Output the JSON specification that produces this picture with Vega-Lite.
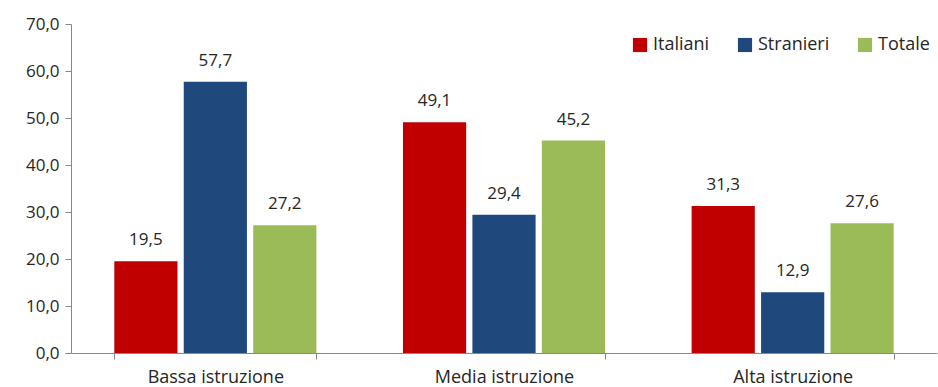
{
  "$schema": "https://vega.github.io/schema/vega-lite/v6.json",
  "width": 866,
  "height": 329,
  "autosize": {"type": "none"},
  "padding": {"left": 71, "top": 24, "right": 1, "bottom": 34},
  "config": {
    "view": {"stroke": null},
    "font": "Open Sans",
    "locale": {"number": {"decimal": ",", "thousands": ".", "grouping": [3], "currency": ["€", ""]}}
  },
  "data": {
    "values": [
      {"istruzione": "Bassa istruzione", "gruppo": "Italiani", "valore": 19.5},
      {"istruzione": "Bassa istruzione", "gruppo": "Stranieri", "valore": 57.7},
      {"istruzione": "Bassa istruzione", "gruppo": "Totale", "valore": 27.2},
      {"istruzione": "Media istruzione", "gruppo": "Italiani", "valore": 49.1},
      {"istruzione": "Media istruzione", "gruppo": "Stranieri", "valore": 29.4},
      {"istruzione": "Media istruzione", "gruppo": "Totale", "valore": 45.2},
      {"istruzione": "Alta istruzione", "gruppo": "Italiani", "valore": 31.3},
      {"istruzione": "Alta istruzione", "gruppo": "Stranieri", "valore": 12.9},
      {"istruzione": "Alta istruzione", "gruppo": "Totale", "valore": 27.6}
    ]
  },
  "encoding": {
    "x": {
      "field": "istruzione", "type": "nominal",
      "sort": ["Bassa istruzione", "Media istruzione", "Alta istruzione"],
      "scale": {"paddingInner": 0.3, "paddingOuter": 0.15},
      "axis": {
        "title": null, "labelAngle": 0, "tickBand": "extent",
        "domainColor": "#888888", "tickColor": "#888888", "tickSize": 6,
        "labelFontSize": 18, "labelColor": "#262626", "labelPadding": 9, "grid": false
      }
    },
    "xOffset": {
      "field": "gruppo", "type": "nominal",
      "sort": ["Italiani", "Stranieri", "Totale"],
      "scale": {"paddingInner": 0.09}
    },
    "y": {
      "field": "valore", "type": "quantitative",
      "scale": {"domain": [0, 70], "nice": false},
      "axis": {
        "title": null, "values": [0, 10, 20, 30, 40, 50, 60, 70], "format": ".1f",
        "grid": false, "domainColor": "#888888", "tickColor": "#888888", "tickSize": 6,
        "labelFontSize": 17, "labelColor": "#262626", "labelPadding": 6
      }
    }
  },
  "layer": [
    {
      "mark": {"type": "bar"},
      "encoding": {
        "color": {
          "field": "gruppo", "type": "nominal",
          "sort": ["Italiani", "Stranieri", "Totale"],
          "scale": {"domain": ["Italiani", "Stranieri", "Totale"], "range": ["#C00000", "#1F497D", "#9BBB59"]},
          "legend": {
            "title": null, "orient": "none", "direction": "horizontal",
            "legendX": 560, "legendY": 12,
            "symbolType": "square", "symbolSize": 200, "symbolStrokeWidth": 0,
            "labelFontSize": 18, "labelColor": "#262626", "labelOffset": 4,
            "columnPadding": 26
          }
        }
      }
    },
    {
      "mark": {"type": "text", "baseline": "bottom", "dy": -12, "fontSize": 17, "color": "#262626"},
      "encoding": {
        "text": {"field": "valore", "type": "quantitative", "format": ".1f"}
      }
    }
  ]
}
